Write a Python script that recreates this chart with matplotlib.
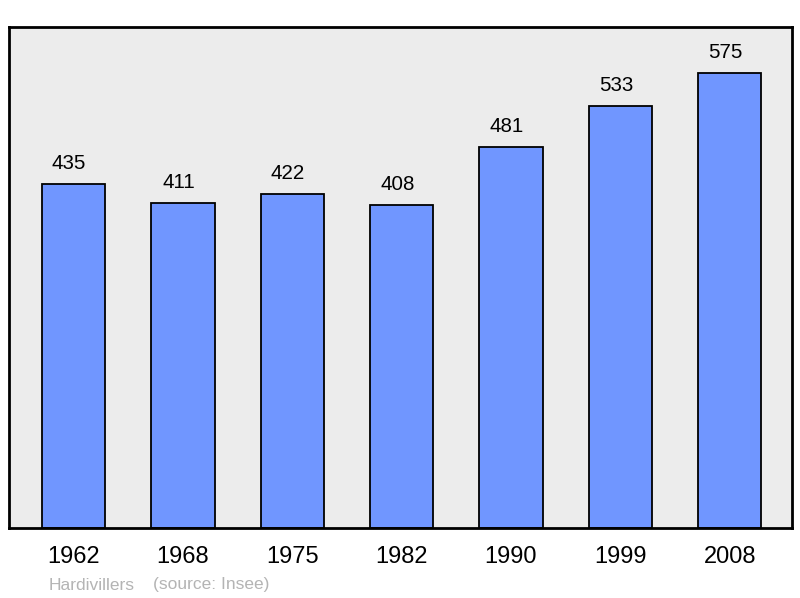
import matplotlib.pyplot as plt

years = ["1962", "1968", "1975", "1982", "1990", "1999", "2008"]
population = [435, 411, 422, 408, 481, 533, 575]
town = "Hardivillers"
source = "(source: Insee)"

plt.rcParams['font.family'] = ['Liberation Sans', 'DejaVu Sans']

fig = plt.figure(figsize=(8, 5.98), dpi=100)
ax = fig.add_axes([9 / 800, 1 - 528 / 598, 783 / 800, 501 / 598])
ax.set_facecolor('#ececec')

x = list(range(len(years)))
ax.bar(x, population, width=0.58, color='#7096ff', edgecolor='black',
       linewidth=1.3, zorder=2)
for xi, v in zip(x, population):
    ax.text(xi - 0.04, v + 14, str(v), ha='center', va='bottom', fontsize=14.8)

ax.set_xlim(-0.59, 6.57)
ax.set_ylim(0, 633)
ax.set_yticks([])
ax.set_xticks(x)
ax.set_xticklabels(years, fontsize=17)
ax.tick_params(axis='x', length=0, pad=13)
for s in ax.spines.values():
    s.set_linewidth(2)

fig.text(49 / 800, 1 - 585 / 598, town, color='#b4b4b4', fontsize=12.5, va='center')
fig.text(153 / 800, 1 - 585 / 598, source, color='#b4b4b4', fontsize=12.5, va='center')

fig.savefig('out.png', dpi=100)
